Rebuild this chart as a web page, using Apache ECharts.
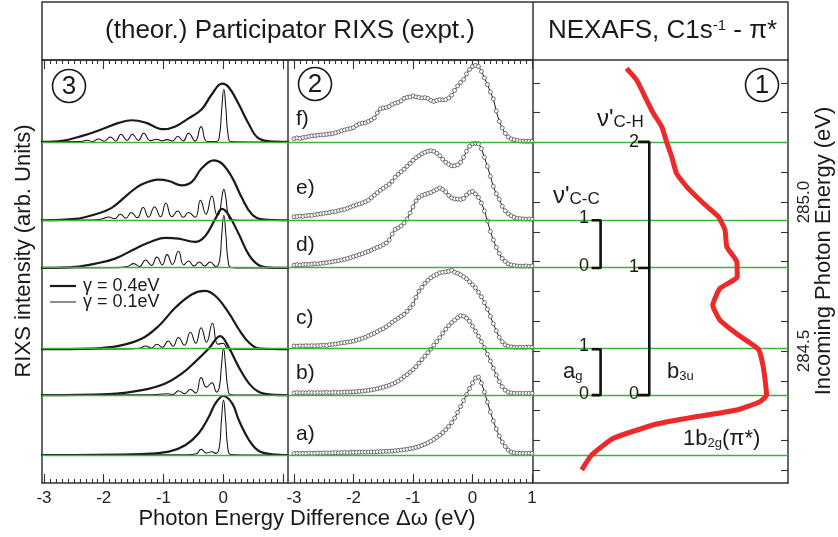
<!DOCTYPE html>
<html>
<head>
<meta charset="utf-8">
<title>Participator RIXS / NEXAFS</title>
<script src="https://cdn.jsdelivr.net/npm/echarts@6/dist/echarts.min.js"></script>
<style>
  html, body { margin: 0; padding: 0; background: #fff; }
  #chart { width: 838px; height: 537px; }
</style>
</head>
<body>
<div id="chart"></div>
<script>
// ---------- data ----------
const spectrumLabels = ['a)', 'b)', 'c)', 'd)', 'e)', 'f)'];
// incoming photon energies (eV); each RIXS spectrum sits on its own energy
const excitation = [284.151, 284.352, 284.506, 284.779, 284.939, 285.202];

const energyTicks = [284.1, 284.2, 284.3, 284.4, 284.5, 284.6, 284.7, 284.8, 284.9, 285.0, 285.1, 285.2, 285.3, 285.4];
const energyLabels = [284.5, 285.0];
const lossTicks = [-3, -2, -1, 0, 1];
const lossLabelsTheo = [-3, -2, -1, 0];
const lossLabelsExpt = [-3, -2, -1, 0, 1];

// panel 3, theory: [energy difference (eV), intensity (arb.)]
// thick = gamma 0.4 eV, thin = gamma 0.1 eV
const thickA = [[-3.05,0],[-3.0,0],[-1.36,1],[-0.91,3.3],[-0.63,10],[-0.41,21.7],[-0.24,38.3],[-0.13,51.7],[0.0,59],[0.15,51.7],[0.26,35],[0.43,15],[0.59,4.3],[0.82,0.7],[1.1,0]];
const thinA = [[-3.05,0],[-0.6,0.3],[-0.45,1.2],[-0.37,5.7],[-0.28,2],[-0.19,3.3],[-0.12,1.5],[-0.065,8],[-0.03,35],[0.005,55],[0.04,35],[0.075,8],[0.125,0.5],[0.3,0],[1.1,0]];
const thickB = [[-3.05,0],[-3.0,0],[-1.92,1],[-1.36,5],[-0.97,11.7],[-0.69,21.7],[-0.47,33.3],[-0.24,46.7],[-0.05,59],[0.09,48],[0.26,28],[0.43,11.7],[0.59,3.3],[0.8,0.5],[1.1,0]];
const thinB = [[-3.05,0],[-1.2,0.3],[-0.93,1.3],[-0.84,0.6],[-0.75,4.3],[-0.65,1.5],[-0.55,5.7],[-0.46,2],[-0.37,17.7],[-0.28,8],[-0.19,12.3],[-0.11,3],[-0.065,8],[-0.03,29],[0.005,46.7],[0.04,29],[0.075,8],[0.125,0.4],[0.3,0],[1.1,0]];
const thickC = [[-3.05,0],[-3.0,0],[-2.2,0.7],[-1.75,3.3],[-1.36,10.7],[-1.08,23.3],[-0.8,41.7],[-0.52,55],[-0.31,58.3],[-0.13,53.3],[0.09,36.7],[0.26,20],[0.43,6.7],[0.59,1],[1.1,0]];
const thinC = [[-3.05,0],[-1.6,0.3],[-1.4,1],[-1.3,3.3],[-1.2,1.3],[-1.11,5],[-1.02,2],[-0.92,8.3],[-0.84,3],[-0.75,11.7],[-0.65,4],[-0.55,17],[-0.46,6],[-0.37,21.5],[-0.28,7],[-0.18,26],[-0.09,5],[0.0,6],[0.07,1],[0.2,0],[1.1,0]];
const thickD = [[-3.05,0],[-3.0,0],[-2.48,1],[-2.14,4.3],[-1.81,9.3],[-1.47,19.3],[-1.19,26.7],[-0.97,30],[-0.75,29.3],[-0.47,26],[-0.3,32],[-0.13,49.3],[-0.02,59],[0.09,53],[0.26,34],[0.43,13],[0.59,3],[0.8,0.3],[1.1,0]];
const thinD = [[-3.05,0],[-1.8,0.3],[-1.6,1.5],[-1.5,4.3],[-1.4,1.5],[-1.3,8],[-1.2,2.5],[-1.11,11],[-1.02,3],[-0.94,13.3],[-0.85,3.5],[-0.75,16.7],[-0.66,3],[-0.58,7],[-0.49,2],[-0.4,6],[-0.31,2],[-0.22,6],[-0.12,1],[-0.06,8],[-0.025,33],[0.01,52.7],[0.045,33],[0.08,8],[0.13,0.5],[0.3,0],[1.1,0]];
const thickE = [[-3.05,0],[-3.0,0],[-2.48,1.3],[-2.14,6],[-1.86,12.7],[-1.58,26.7],[-1.36,36],[-1.08,40.7],[-0.91,39.3],[-0.69,35],[-0.52,38.7],[-0.36,52],[-0.16,60],[-0.02,56.7],[0.15,42.7],[0.31,22.7],[0.48,6],[0.65,1],[1.1,0]];
const thinE = [[-3.05,0],[-2.2,0.3],[-2.02,1.5],[-1.92,3.3],[-1.82,1.5],[-1.72,6],[-1.63,2],[-1.54,7.7],[-1.44,2.5],[-1.34,12.7],[-1.25,3],[-1.15,13.3],[-1.05,3.5],[-0.96,17.3],[-0.86,3.5],[-0.76,9.3],[-0.67,3],[-0.58,7.7],[-0.47,3],[-0.38,20],[-0.29,6],[-0.19,24.3],[-0.1,5],[-0.06,8],[-0.025,22],[0.01,31],[0.045,22],[0.08,6],[0.13,0.5],[0.3,0],[1.1,0]];
const thickF = [[-3.05,0],[-3.0,0],[-2.7,1],[-2.36,6],[-2.03,12.7],[-1.75,19],[-1.53,21.7],[-1.3,19.3],[-1.0,12.7],[-0.8,15.5],[-0.58,23.5],[-0.36,32.7],[-0.19,47.7],[-0.02,58.3],[0.09,55],[0.26,37.7],[0.43,17.7],[0.59,3.7],[0.87,0.3],[1.1,0]];
const thinF = [[-3.05,0],[-2.4,0.3],[-2.28,1.7],[-2.18,0.4],[-2.09,3],[-1.99,0.6],[-1.89,5],[-1.8,1],[-1.71,7.7],[-1.61,1.5],[-1.52,7.7],[-1.42,1.5],[-1.33,8.7],[-1.22,1.3],[-1.11,2.7],[-1.03,1.2],[-0.94,2.3],[-0.85,1],[-0.76,5.7],[-0.67,1],[-0.58,8.7],[-0.47,0.8],[-0.37,15.3],[-0.27,0.5],[-0.11,0.5],[-0.06,8],[-0.025,33],[0.01,52.7],[0.045,33],[0.08,8],[0.13,0.3],[0.4,0],[1.1,0]];

// panel 2, experiment: energy difference grid (eV) and counts (arb.)
const exptX = [-3.00,-2.95,-2.90,-2.85,-2.80,-2.75,-2.70,-2.65,-2.60,-2.55,
  -2.50,-2.45,-2.40,-2.35,-2.30,-2.25,-2.20,-2.15,-2.10,-2.05,
  -2.00,-1.95,-1.90,-1.85,-1.80,-1.75,-1.70,-1.65,-1.60,-1.55,
  -1.50,-1.45,-1.40,-1.35,-1.30,-1.25,-1.20,-1.15,-1.10,-1.05,
  -1.00,-0.95,-0.90,-0.85,-0.80,-0.75,-0.70,-0.65,-0.60,-0.55,
  -0.50,-0.45,-0.40,-0.35,-0.30,-0.25,-0.20,-0.15,-0.10,-0.05,
  0.00,0.05,0.10,0.15,0.20,0.25,0.30,0.35,0.40,0.45,
  0.50,0.55,0.60,0.65,0.70,0.75,0.80,0.85,0.90,0.95,
  1.00];
const exptA = [1.5,1.8,1.5,1.7,1.6,1.9,1.7,1.8,2.0,1.8,
  2.0,2.1,2.0,2.2,2.3,2.1,2.4,2.5,2.3,2.6,
  2.7,2.6,2.8,2.9,2.8,3.0,3.1,3.0,3.3,3.4,
  3.5,3.7,3.8,4.0,4.3,4.6,4.9,5.3,5.8,6.3,
  6.8,7.6,8.5,9.6,10.8,12.2,13.8,15.6,17.6,19.9,
  22.4,25.3,28.6,32.4,37,42.5,48.5,54.5,60.5,66.5,
  72,77,78,72,63,53,43,34,26,19,
  13,8.5,5,3,2.2,1.8,1.6,1.8,1.5,1.9,
  1.7];
const exptB = [2.2,2.5,2.3,2.4,2.2,2.5,2.4,2.3,2.6,2.4,
  2.5,2.7,2.4,2.6,2.8,2.6,2.9,3.0,3.0,3.2,
  3.3,3.5,3.8,4.0,4.4,4.8,5.2,5.8,6.4,7.2,
  8.0,8.9,9.8,11,12.4,14,16,18.5,20.5,23,
  25.5,28.5,32,35.5,39,42.5,46,50,53.5,57.5,
  62,66,69.5,72.5,75,77.5,79.5,79,77,74,
  69,64,59,53.5,47.5,41,34,27,20,13.5,
  8.5,5,3,2.2,1.8,1.7,1.9,1.6,1.8,1.7,
  1.8];
const exptC = [3.3,3.0,3.4,3.2,3.5,3.3,3.6,3.4,3.6,3.8,
  4.2,3.7,4.5,4.8,5.2,5.8,6.3,6.6,7.2,7.6,
  8.2,9.2,10,11,12,13.5,14.8,16,17.5,19.3,
  20.5,22.5,24.5,27,29,31,33,35,38,41.5,
  45,52,58,62,66,69,71.5,73.5,75,76.5,
  77,77.5,78,79,77,76,74.5,72.5,70.5,67.5,
  64.5,61.5,57,52.5,46.5,40,33,25.5,18.5,12,
  7.5,4.5,3,2.3,2,1.8,2.1,1.8,1.9,2.2,
  1.8];
const exptD = [2.8,3.2,2.9,3.3,3.5,3.4,3.8,4.2,4.0,4.6,
  4.9,5.3,5.8,6.3,6.8,7.3,8,8.6,9.4,10.3,
  11.3,12.2,13.3,14.2,15.4,16.5,17.8,19.2,20.5,21.7,
  23.2,25,28,34,38.5,40,42,45,49,55,
  61,67,70.5,72.5,73.5,74.5,75.5,77,78.5,80,
  78.5,76,72.5,70,69,69,68.5,69.5,73,75.5,
  76.5,74,70.5,65,57,47,36.5,28,20.5,14.5,
  9.5,6.5,4.2,3,2.4,2,1.8,1.7,2,1.7,
  1.9];
const exptE = [3.5,3.8,4.2,3.9,4.5,5.0,4.8,5.6,6.0,6.4,
  7.0,7.3,7.8,8.5,8.8,9.6,10.3,11.0,12.0,13.2,
  14.3,15.3,16.3,17.3,18.5,20,22.5,25,27.5,30,
  32,34,36,39,43,46,48.5,51,54,57,
  60,62.5,64.5,66.5,68,69,69.5,69,67,64.5,
  61,58,56,54.5,54.5,55.5,58,63,69,74,
  76.5,77,76.5,71.5,63,54,44,34,26.5,21,
  14,9.5,6.5,4.5,3,2,1.6,1.3,1.2,1.3,
  1.0];
const exptF = [3.2,4.0,3.5,4.4,4.8,5.5,6.0,6.3,6.8,7.0,
  7.2,7.6,7.9,8.3,9.2,10.0,11.2,12.0,12.8,13.5,
  14.3,16.5,18,18.8,19,20.5,22,24,29,33,
  34,34.3,35.5,37.5,38.8,39.5,41,43.5,44.5,45,
  46,45,44.5,44,44.3,43.5,41.5,40.5,41.5,42.3,
  42,42.3,44,46.7,51.5,56,59.5,62.5,68,72.5,
  75.5,76.5,75.5,70.5,64,57.5,50,43,31,20.5,
  14,8.5,5,3,2.2,1.5,1,0.8,0.6,0.7,
  0.5];

// panel 1, NEXAFS C1s -> pi*: incoming energy (eV) and absorption (arb.)
const nexafsE = [285.449,285.409,285.342,285.298,285.253,285.202,285.152,285.096,285.051,284.996,284.951,284.906,284.850,284.800,284.749,284.710,284.654,284.604,284.554,284.506,284.447,284.352,284.330,284.302,284.274,284.255,284.207,284.151,284.101];
const nexafsI = [36.7,40.7,44.6,47.2,50.5,52.4,54.4,56.3,60.3,66.8,72.7,75.3,76.0,79.9,80.1,73.3,70.5,73.3,80.5,88.4,90.3,91.6,89.0,79.9,60.3,48.5,31.5,23.0,19.1];

// vibrational levels marked in panel 1 (incoming energies of levels 0,1,2)
const levelsCH = [excitation[1], excitation[3], excitation[5]];
const levelsCC = [excitation[3], excitation[4]];
const levelsAg = [excitation[1], excitation[2]];

// ---------- chart ----------
const E_MIN = 284.057, E_MAX = 285.477;
const K = 1 / 298; // arb. intensity unit -> eV on the shared vertical scale
const FONT = '"Liberation Sans", Arial, Helvetica, sans-serif';
const INK = '#1a1a1a';
const GREEN = '#3cb43c';
const RED = '#ec2a2a';

const minorTicks = [];
for (let i = -30; i <= 10; i++) minorTicks.push(i / 10);

const thick = [thickA, thickB, thickC, thickD, thickE, thickF];
const thin = [thinA, thinB, thinC, thinD, thinE, thinF];
const expt = [exptA, exptB, exptC, exptD, exptE, exptF];

const onBase = (pairs, base) => pairs.map(p => [p[0], base + p[1] * K]);

const axisLineStyle = { color: '#333', width: 1.5 };
const tickStyle = { color: '#333', width: 1.1 };

function lossAxes(grid, min, max, labels) {
  const common = { type: 'value', gridIndex: grid, min: min, max: max, splitLine: { show: false } };
  return [
    Object.assign({}, common, {
      position: 'bottom',
      axisLine: { show: true, onZero: false, lineStyle: axisLineStyle },
      axisTick: { show: true, inside: true, length: 9, customValues: lossTicks, lineStyle: tickStyle },
      axisLabel: { show: true, customValues: labels, margin: 7, fontSize: 17, color: '#222', fontFamily: FONT }
    }),
    Object.assign({}, common, {
      position: 'bottom',
      axisLine: { show: false, onZero: false },
      axisTick: { show: true, inside: true, length: 4, customValues: minorTicks, lineStyle: tickStyle },
      axisLabel: { show: false }
    }),
    Object.assign({}, common, {
      position: 'top',
      axisLine: { show: true, onZero: false, lineStyle: axisLineStyle },
      axisTick: { show: true, inside: true, length: 9, customValues: lossTicks, lineStyle: tickStyle },
      axisLabel: { show: false }
    }),
    Object.assign({}, common, {
      position: 'top',
      axisLine: { show: false, onZero: false },
      axisTick: { show: true, inside: true, length: 4, customValues: minorTicks, lineStyle: tickStyle },
      axisLabel: { show: false }
    })
  ];
}

const xAxes = []
  .concat(lossAxes(0, -3.033, 1.084, lossLabelsTheo))
  .concat(lossAxes(1, -3.101, 1.017, lossLabelsExpt))
  .concat([{
    type: 'value', gridIndex: 2, min: 0, max: 100, position: 'bottom',
    splitLine: { show: false }, axisTick: { show: false }, axisLabel: { show: false },
    axisLine: { show: true, onZero: false, lineStyle: axisLineStyle }
  }]);

const yCommon = {
  type: 'value', min: E_MIN, max: E_MAX, splitLine: { show: false },
  axisLine: { show: true, onZero: false, lineStyle: axisLineStyle },
  axisTick: { show: false }, axisLabel: { show: false }
};
const yAxes = [
  Object.assign({}, yCommon, { gridIndex: 0, position: 'left' }),
  Object.assign({}, yCommon, { gridIndex: 1, position: 'left' }),
  Object.assign({}, yCommon, {
    gridIndex: 2, position: 'left',
    axisTick: { show: true, inside: true, length: 7, customValues: energyTicks, lineStyle: tickStyle }
  }),
  Object.assign({}, yCommon, {
    gridIndex: 2, position: 'right',
    axisTick: { show: true, inside: true, length: 7, customValues: energyTicks, lineStyle: tickStyle },
    axisLabel: {
      show: true, customValues: energyLabels, rotate: 90, margin: 8, fontSize: 17,
      color: '#222', fontFamily: FONT, formatter: v => v.toFixed(1)
    }
  })
];

function greenLines(xi, yi, x0) {
  return {
    type: 'line', xAxisIndex: xi, yAxisIndex: yi, data: [[x0, excitation[0]]],
    showSymbol: false, lineStyle: { opacity: 0 }, z: 1, silent: true,
    markLine: {
      silent: true, symbol: ['none', 'none'], label: { show: false },
      lineStyle: { color: GREEN, width: 1.3, type: 'solid' },
      data: excitation.map(e => ({ yAxis: e }))
    }
  };
}

const series = [greenLines(0, 0, 0), greenLines(4, 1, 0), greenLines(8, 2, 50)];

excitation.forEach((base, i) => {
  series.push({
    type: 'line', xAxisIndex: 0, yAxisIndex: 0, data: onBase(thick[i], base),
    smooth: 0.4, showSymbol: false, silent: true, z: 4,
    lineStyle: { color: INK, width: 2.2 }
  });
  series.push({
    type: 'line', xAxisIndex: 0, yAxisIndex: 0, data: onBase(thin[i], base),
    smooth: 0.5, showSymbol: false, silent: true, z: 3,
    lineStyle: { color: '#111', width: 1.05 }
  });
  series.push({
    type: 'line', xAxisIndex: 4, yAxisIndex: 1,
    data: expt[i].map((v, j) => [exptX[j], base + v * K]),
    smooth: 0.3, showSymbol: true, symbol: 'circle', symbolSize: 4, silent: true, z: 4,
    itemStyle: { color: '#fff', borderColor: '#3a3a3a', borderWidth: 0.7 },
    lineStyle: { color: INK, width: 1 }
  });
});

series.push({
  type: 'line', xAxisIndex: 8, yAxisIndex: 2,
  data: nexafsI.map((v, i) => [v, nexafsE[i]]),
  smooth: 0.15, showSymbol: false, silent: true, z: 5,
  lineStyle: { color: RED, width: 5 }
});

// brackets for the vibrational progressions
function bracket(levels, xTick, xBar) {
  const top = levels[levels.length - 1], bottom = levels[0];
  const out = [{
    type: 'line', xAxisIndex: 8, yAxisIndex: 2, silent: true, showSymbol: false, z: 6,
    data: [[xTick, top], [xBar, top], [xBar, bottom], [xTick, bottom]],
    lineStyle: { color: '#111', width: 2.6 }
  }];
  levels.slice(1, -1).forEach(e => out.push({
    type: 'line', xAxisIndex: 8, yAxisIndex: 2, silent: true, showSymbol: false, z: 6,
    data: [[xTick, e], [xBar, e]], lineStyle: { color: '#111', width: 2.6 }
  }));
  return out;
}
bracket(levelsCH, 41.2, 45.6).concat(bracket(levelsCC, 23.0, 26.5), bracket(levelsAg, 23.0, 26.5))
  .forEach(s => series.push(s));

// ---------- text & frame ----------
function text(str, x, y, size, opts) {
  opts = opts || {};
  return {
    type: 'text', x: x, y: y, rotation: opts.rotation || 0, silent: true, z: 10,
    style: Object.assign({
      text: str, fontSize: size, fontFamily: FONT, fill: INK,
      align: opts.align || 'left', verticalAlign: 'middle'
    }, opts.style || {})
  };
}
function circled(num, cx, cy) {
  return [
    { type: 'circle', silent: true, z: 10, shape: { cx: cx, cy: cy, r: 16.5 }, style: { fill: '#fff', stroke: INK, lineWidth: 1.6 } },
    text(num, cx, cy + 1, 26, { align: 'center' })
  ];
}
function rich(parts, x, y, mainSize, subSize, subAlign) {
  const r = {
    m: { fontSize: mainSize, fontFamily: FONT, fill: INK },
    s: { fontSize: subSize, fontFamily: FONT, fill: INK, verticalAlign: subAlign }
  };
  return {
    type: 'text', x: x, y: y, silent: true, z: 10,
    style: { text: parts, rich: r, fontFamily: FONT, fontSize: mainSize, fill: INK, align: 'left', verticalAlign: 'middle' }
  };
}

const graphics = [
  { type: 'rect', silent: true, shape: { x: 42, y: 2, width: 746, height: 58 }, style: { fill: 'none', stroke: '#333', lineWidth: 1.5 } },
  { type: 'line', silent: true, shape: { x1: 533, y1: 2, x2: 533, y2: 60 }, style: { stroke: '#333', lineWidth: 1.5 } },
  text('(theor.) Participator RIXS (expt.)', 290, 31, 26, { align: 'center' }),
  rich('{m|NEXAFS, C1s}{s|-1}{m| - π*}', 548, 31, 26, 15, 'top'),
  text('RIXS intensity (arb. Units)', 24, 251, 22, { align: 'center', rotation: Math.PI / 2 }),
  text('Incoming Photon Energy (eV)', 824, 251, 22, { align: 'center', rotation: Math.PI / 2 }),
  text('Photon Energy Difference Δω (eV)', 307, 519, 22, { align: 'center' }),
  // legend of panel 3
  { type: 'line', silent: true, z: 10, shape: { x1: 50, y1: 286, x2: 76, y2: 286 }, style: { stroke: INK, lineWidth: 2.2 } },
  { type: 'line', silent: true, z: 10, shape: { x1: 50, y1: 302, x2: 76, y2: 302 }, style: { stroke: INK, lineWidth: 1 } },
  text('γ = 0.4eV', 83, 286, 18),
  text('γ = 0.1eV', 83, 302, 18),
  // panel 1 annotations
  rich("{m|ν'}{s|C-H}", 597, 119, 24, 17, 'bottom'),
  rich("{m|ν'}{s|C-C}", 553, 196, 24, 17, 'bottom'),
  text('2', 639, 142, 18, { align: 'right' }),
  text('1', 639, 267, 18, { align: 'right' }),
  text('0', 639, 394, 18, { align: 'right' }),
  text('1', 589, 218, 18, { align: 'right' }),
  text('0', 589, 266, 18, { align: 'right' }),
  text('1', 589, 346, 18, { align: 'right' }),
  text('0', 589, 394, 18, { align: 'right' }),
  rich('{m|a}{s|g}', 563, 372, 22, 13, 'bottom'),
  rich('{m|b}{s|3u}', 667, 372, 22, 13, 'bottom'),
  rich('{m|1b}{s|2g}{m|(π*)}', 683, 439, 22, 13, 'bottom')
].concat(circled('3', 69, 86), circled('2', 315, 84), circled('1', 762, 85));

// spectrum letters of panel 2
const letterY = [434, 373, 318, 245, 188, 119];
spectrumLabels.forEach((s, i) => graphics.push(text(s, 296, letterY[i], 21)));

const chart = echarts.init(document.getElementById('chart'), null, { renderer: 'canvas' });
chart.setOption({
  animation: false,
  backgroundColor: '#fff',
  grid: [
    { left: 42, top: 60, width: 246, height: 423, outerBoundsMode: 'none' },
    { left: 288, top: 60, width: 245, height: 423, outerBoundsMode: 'none' },
    { left: 533, top: 60, width: 255, height: 423, outerBoundsMode: 'none' }
  ],
  xAxis: xAxes,
  yAxis: yAxes,
  series: series,
  graphic: graphics
});
</script>
</body>
</html>
